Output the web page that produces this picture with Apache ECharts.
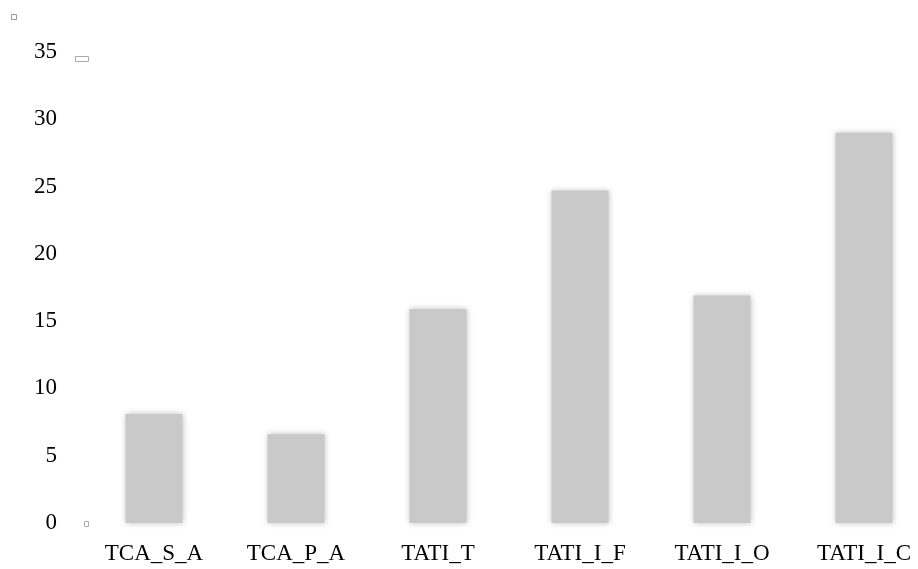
<!DOCTYPE html>
<html>
<head>
<meta charset="utf-8">
<script src="https://cdn.jsdelivr.net/npm/echarts@6/dist/echarts.min.js"></script>
<style>html,body{margin:0;padding:0;background:#fff;}#c{width:918px;height:569px;}</style>
</head>
<body>
<div id="c"></div>
<script>
const categories = ['TCA_S_A', 'TCA_P_A', 'TATI_T', 'TATI_I_F', 'TATI_I_O', 'TATI_I_C'];
const values = [8.1, 6.6, 15.9, 24.7, 16.9, 29.0];
const yTicks = [0, 5, 10, 15, 20, 25, 30, 35];

const chart = echarts.init(document.getElementById('c'), null, {renderer: 'canvas'});
const font = '"Liberation Serif", "DejaVu Serif", serif';
chart.setOption({
  animation: false,
  backgroundColor: '#ffffff',
  grid: {left: 154, right: 54, top: 52, bottom: 46, containLabel: false},
  xAxis: {
    type: 'category',
    data: categories,
    boundaryGap: false,
    axisLine: {show: false},
    axisTick: {show: false},
    axisLabel: {color: '#000', fontFamily: font, fontSize: 23, margin: 19}
  },
  yAxis: {
    type: 'value',
    min: yTicks[0],
    max: yTicks[yTicks.length - 1],
    interval: yTicks[1] - yTicks[0],
    axisLine: {show: false},
    axisTick: {show: false},
    splitLine: {show: false},
    axisLabel: {color: '#000', fontFamily: font, fontSize: 23, margin: 97}
  },
  series: [{
    type: 'bar',
    data: values,
    barWidth: 57,
    clip: false,
    itemStyle: {
      color: '#c9c9c9',
      shadowBlur: 6,
      shadowColor: 'rgba(0,0,0,0.25)',
      shadowOffsetX: 0,
      shadowOffsetY: 0
    }
  }],
  graphic: [
    {type: 'rect', shape: {x: 11.5, y: 14.5, width: 5, height: 5}, style: {fill: 'none', stroke: '#999', lineWidth: 1}},
    {type: 'rect', shape: {x: 75.5, y: 56.5, width: 13, height: 5}, style: {fill: 'none', stroke: '#aaa', lineWidth: 1}},
    {type: 'rect', shape: {x: 84.5, y: 521.5, width: 4, height: 5}, style: {fill: 'none', stroke: '#aaa', lineWidth: 1}}
  ]
});
</script>
</body>
</html>
